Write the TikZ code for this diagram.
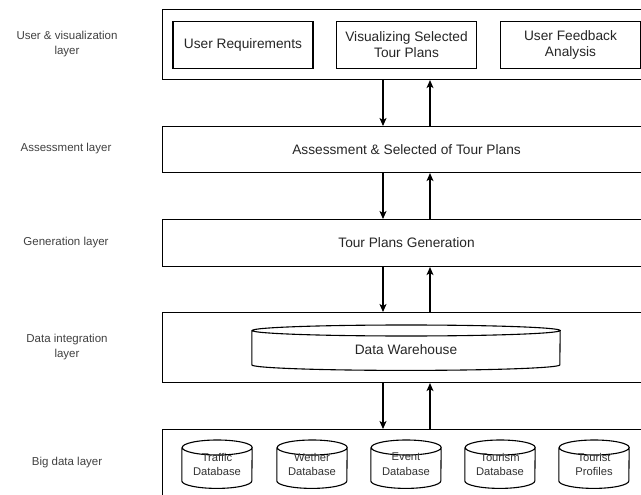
\documentclass[tikz,border=0pt]{standalone}
\usepackage{fontspec}
\setmainfont{Liberation Sans}
\usetikzlibrary{arrows.meta}
\newcommand{\cylnode}[7]{% name, cx, cy(top), width, height, ry, text
  \node[cylbody, minimum width=#4pt, minimum height=#5pt, anchor=north] (#1) at (#2,#3) {};
  \draw[cylline] ([yshift=-#6pt]#1.north west) -- ([yshift=#6pt]#1.south west)
     arc[start angle=180, end angle=360, x radius=#4pt/2, y radius=#6pt]
     -- ([yshift=-#6pt]#1.north east)
     arc[start angle=0, end angle=180, x radius=#4pt/2, y radius=#6pt]
     arc[start angle=180, end angle=360, x radius=#4pt/2, y radius=#6pt];
}
\begin{document}
\begin{tikzpicture}[x=1pt,y=1pt,
  layerbox/.style={draw=black, line width=1.1pt, fill=white, inner sep=0pt, minimum width=488pt, anchor=north west},
  innerbox/.style={draw=black, line width=1.1pt, minimum width=140pt, minimum height=47pt, inner sep=0pt, align=center, font=\fontsize{13.7}{16}\selectfont, text=black!85, anchor=north},
  boxtext/.style={font=\fontsize{13.7}{16}\selectfont, text=black!85},
  lbl/.style={font=\fontsize{11.5}{15}\selectfont, align=center, text=black!75},
  cylbody/.style={draw=none, inner sep=0pt},
  cylline/.style={draw=black, line width=1.1pt, fill=white},
  cyltext/.style={font=\fontsize{11.2}{14}\selectfont, align=center, text=black!80, inner sep=0pt},
  link/.style={line width=1.1pt, -{Stealth[length=8pt,width=7pt,inset=2pt]}},
]
\useasboundingbox (0,0) rectangle (641,-495);
\clip (0,0) rectangle (641,-495);

% layer boxes
\node[layerbox, minimum height=70pt] (L1) at (162,-9) {};
\node[layerbox, minimum height=46pt] (L2) at (162,-126) {};
\node[layerbox, minimum height=47pt] (L3) at (162,-219) {};
\node[layerbox, minimum height=70pt] (L4) at (162,-312) {};
\node[layerbox, minimum height=80pt] (L5) at (162,-429) {};

% layer labels
\node[lbl] (t1) at (67,-44) {User \& visualization\\layer};
\node[lbl] (t2) at (66,-149) {Assessment layer};
\node[lbl] (t3) at (66,-243) {Generation layer};
\node[lbl] (t4) at (67,-347) {Data integration\\layer};
\node[lbl] (t5) at (67,-463) {Big data layer};

% user layer boxes
\node[innerbox] (ur) at (243,-21) {User Requirements};
\node[innerbox] (vs) at (406.5,-21) {Visualizing Selected\\Tour Plans};
\node[innerbox] (uf) at (570.5,-21) {User Feedback\\Analysis};

% texts of single layers
\node[boxtext] (as) at (L2.center) {Assessment \& Selected of Tour Plans};
\node[boxtext] (gen) at (L3.center) {Tour Plans Generation};

% data warehouse
\cylnode{dw}{406}{-325}{308}{45}{5.5}{}
\node[boxtext] (dwt) at ([yshift=-2pt]dw.center) {Data Warehouse};

% databases
\cylnode{db1}{217}{-440}{70}{48}{7.5}{}
\cylnode{db2}{312}{-440}{70}{48}{7.5}{}
\cylnode{db3}{406}{-440}{70}{48}{7.5}{}
\cylnode{db4}{500}{-440}{70}{48}{7.5}{}
\cylnode{db5}{594}{-440}{70}{48}{7.5}{}
\node[cyltext] (db1t) at (db1.center) {Traffic\\Database};
\node[cyltext] (db2t) at (db2.center) {Wether\\Database};
\node[cyltext] (db3t) at (db3.center) {Event\\Database};
\node[cyltext] (db4t) at (db4.center) {Tourism\\Database};
\node[cyltext] (db5t) at (db5.center) {Tourist\\Profiles};

% arrows
\draw[link] (L1.south -| 383,0) -- (L2.north -| 383,0);
\draw[link] (L2.north -| 430,0) -- (L1.south -| 430,0);
\draw[link] (L2.south -| 383,0) -- (L3.north -| 383,0);
\draw[link] (L3.north -| 430,0) -- (L2.south -| 430,0);
\draw[link] (L3.south -| 383,0) -- (L4.north -| 383,0);
\draw[link] (L4.north -| 430,0) -- (L3.south -| 430,0);
\draw[link] (L4.south -| 383,0) -- (L5.north -| 383,0);
\draw[link] (L5.north -| 430,0) -- (L4.south -| 430,0);
\end{tikzpicture}
\end{document}
